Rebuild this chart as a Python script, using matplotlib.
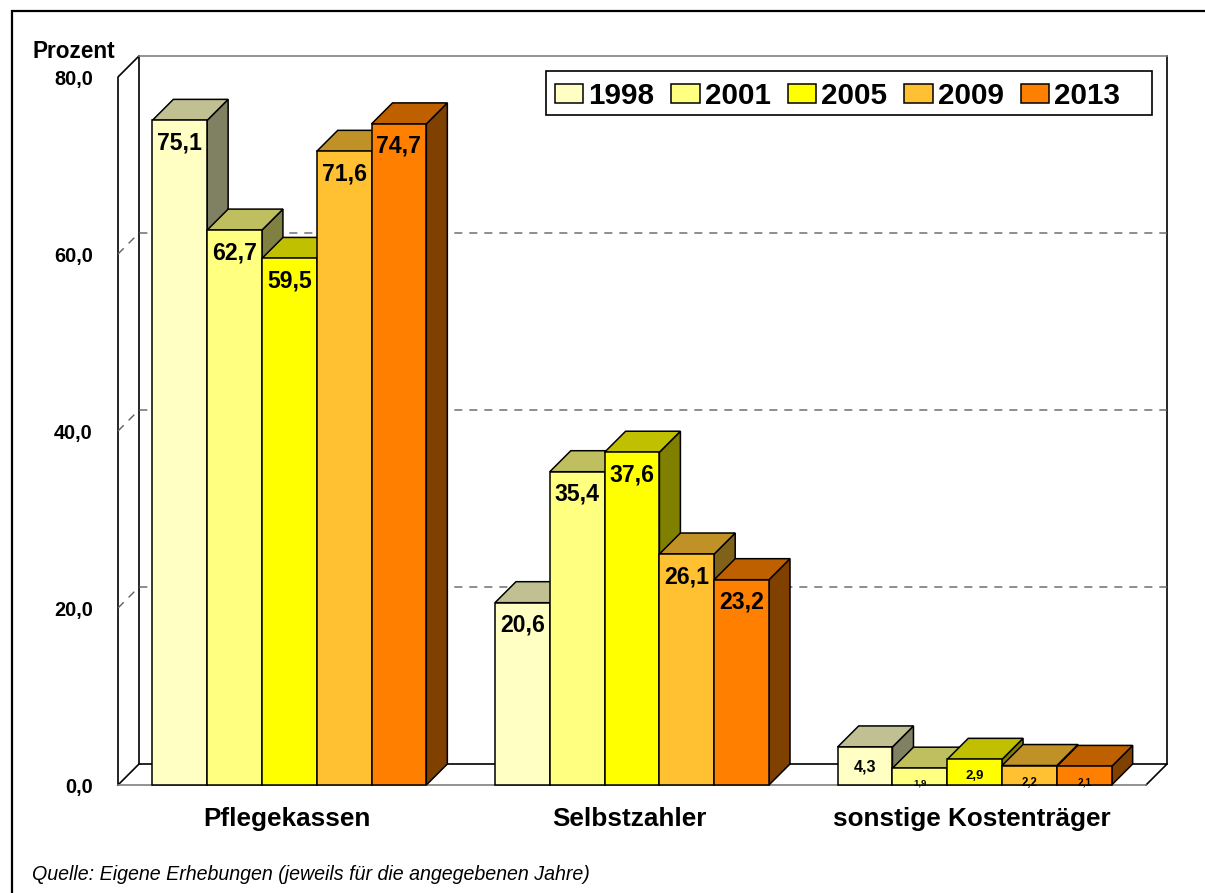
import matplotlib
matplotlib.use("Agg")
import matplotlib.pyplot as plt
import numpy as np
from matplotlib.patches import Patch, Rectangle
from matplotlib.transforms import ScaledTranslation

plt.rcParams["font.family"] = ["Liberation Sans", "DejaVu Sans"]

CATEGORIES = ["Pflegekassen", "Selbstzahler", "sonstige Kostenträger"]
YEARS = ["1998", "2001", "2005", "2009", "2013"]
V1998 = [75.1, 20.6, 4.3]
V2001 = [62.7, 35.4, 1.9]
V2005 = [59.5, 37.6, 2.9]
V2009 = [71.6, 26.1, 2.2]
V2013 = [74.7, 23.2, 2.1]
SERIES = [V1998, V2001, V2005, V2009, V2013]
Y_TICKS = [0, 20, 40, 60, 80]

FRONT = ["#FFFFC3", "#FFFF80", "#FFFF00", "#FFC132", "#FF8000"]
TOP = ["#C0C092", "#BFBF60", "#C0C000", "#C09126", "#BF6000"]
SIDE = ["#808062", "#808040", "#808000", "#806119", "#804000"]

# label size / distance below the bar top, the last group is squeezed
LABEL_SIZE = [[16.6] * 5, [16.6] * 5, [11.5, 6.8, 9.5, 8.3, 7.3]]
LABEL_DROP = [[22.5] * 5, [22.5] * 5, [20, 15, 17, 17, 16]]

W, H = 1205, 893
fig = plt.figure(figsize=(W / 100, H / 100), dpi=100, facecolor="white")
ax = fig.add_axes([118 / W, (H - 785) / H, 1028 / W, 708 / H])
ax.set_xlim(-0.5, 2.5)
ax.set_ylim(0, 80)
for s in ax.spines.values():
    s.set_visible(False)
ax.patch.set_visible(False)

# depth of the fake 3d box, 21 px both ways
dx = 21 / (1028 / 3)
dy = 21 / (708 / 80)
bw = 54.8 / (1028 / 3)
x0, x1 = -0.5, 2.5

# walls and floor
wall = dict(color="black", lw=1.2, clip_on=False, zorder=1, solid_capstyle="projecting")
grey = dict(color="#808080", lw=1.2, clip_on=False, zorder=1)
ax.plot([x0, x0, x0 + dx], [0, 80, 80 + dy], **wall)
ax.plot([x0, x0 + dx, x1 + dx, x1], [0, dy, dy, 0], **wall)
ax.plot([x0 + dx, x0 + dx], [dy, 80 + dy], **wall)
ax.plot([x1 + dx, x1 + dx], [dy, 80 + dy], **wall)
ax.plot([x0 + dx, x1 + dx], [80 + dy, 80 + dy], **grey)
ax.plot([x0, x1], [0, 0], **grey)
for v in Y_TICKS[1:-1]:
    ax.plot([x0, x0 + dx, x1 + dx], [v, v + dy, v + dy], color="#606060", lw=1.0,
            dashes=(5.8, 5), clip_on=False, zorder=1)

# painter's order, left to right
for c in range(len(CATEGORIES)):
    for i in range(len(YEARS)):
        v = SERIES[i][c]
        left = c + (i - 2.5) * bw
        right = left + bw
        edge = dict(edgecolor="black", lw=1.1, clip_on=False, zorder=2)
        ax.fill([right, right + dx, right + dx, right], [0, dy, v + dy, v],
                facecolor=SIDE[i], **edge)
        ax.fill([left, right, right + dx, left + dx], [v, v, v + dy, v + dy],
                facecolor=TOP[i], **edge)
        ax.bar(left + bw / 2, v, bw, color=FRONT[i], **edge)
        ax.annotate(f"{v:.1f}".replace(".", ","), (left + bw / 2, v),
                    xytext=(0, -LABEL_DROP[c][i]), textcoords="offset pixels",
                    ha="center", va="center", fontsize=LABEL_SIZE[c][i],
                    fontweight="bold", annotation_clip=False, zorder=4)

ax.set_xlim(x0, x1)
ax.set_ylim(0, 80)
ax.set_yticks(Y_TICKS)
ax.set_yticklabels([f"{v:.1f}".replace(".", ",") for v in Y_TICKS],
                   fontsize=14.3, fontweight="bold")
ax.set_xticks(np.arange(3) - 0.008)
ax.set_xticklabels(CATEGORIES, fontsize=18.8, fontweight="bold")
ax.tick_params(axis="y", length=0, pad=18)
ax.tick_params(axis="x", length=0, pad=16)
for lab in ax.get_yticklabels():
    lab.set_transform(lab.get_transform() + ScaledTranslation(0, -0.7 / 100, fig.dpi_scale_trans))

# legend box is wider than its entries on the right, so it gets its own frame
ax.add_patch(Rectangle((546 / W, (H - 115) / H), 606 / W, 44 / H, transform=fig.transFigure,
                       facecolor="white", edgecolor="black", lw=1.2, clip_on=False, zorder=4.5))
handles = [Patch(facecolor=FRONT[i], edgecolor="black", lw=1.1, label=YEARS[i])
           for i in range(len(YEARS))]
leg = ax.legend(handles=handles, ncol=5, loc="center left", frameon=False,
                bbox_to_anchor=(555 / W, (H - 95.5) / H), bbox_transform=fig.transFigure,
                prop=dict(size=21.3, weight="bold"), handlelength=0.95, handleheight=0.62,
                handletextpad=0.17, columnspacing=0.585, borderpad=0, borderaxespad=0)

fig.text(32 / W, (H - 51) / H, "Prozent", fontsize=16.3, fontweight="bold", va="center")
fig.text(32 / W, (H - 874.5) / H, "Quelle: Eigene Erhebungen (jeweils für die angegebenen Jahre)",
         fontsize=14.1, style="italic", va="center")

# outer frame runs off the right and bottom edge
fig.add_artist(Rectangle((12 / W, -0.1), 1.2, 1.1 - 11.5 / H, transform=fig.transFigure,
                         fill=False, edgecolor="black", lw=1.6))

fig.savefig("out.png", dpi=100)
